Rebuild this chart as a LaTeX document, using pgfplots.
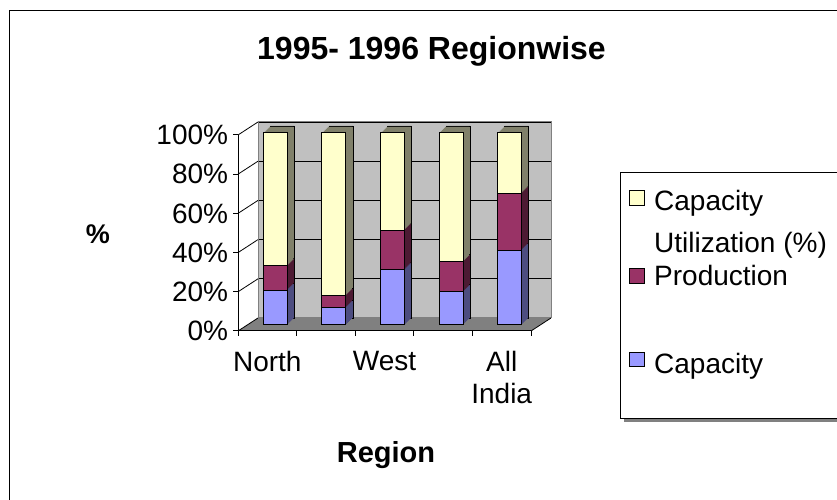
\documentclass[border=0pt]{standalone}
\usepackage{fontspec}
\setmainfont{Liberation Sans}
\usepackage{pgfplots}
\usepackage{pgfplotstable}
\pgfplotsset{compat=1.18}
\definecolor{capf}{HTML}{9999FF}
\definecolor{caps}{HTML}{4D4D80}
\definecolor{prodf}{HTML}{993366}
\definecolor{prods}{HTML}{4D1A33}
\definecolor{utilf}{HTML}{FFFFCC}
\definecolor{utils}{HTML}{80806A}
\definecolor{wallc}{HTML}{C0C0C0}
\definecolor{floorc}{HTML}{808080}

\pgfplotstableread{
cat cap prod util
0 18.2 12.6 69.2
1 9.0 6.3 84.7
2 28.8 20.6 50.6
3 17.3 15.6 67.1
4 39.0 29.5 31.5
}\datatable

\pgfplotsset{
 barax/.style={scale only axis, width=293pt, height=192pt, xmin=-0.5, xmax=4.5,
   ymin=0, ymax=100, axis lines=none, ticks=none, ybar stacked, bar width=24pt,
   clip=false, anchor=south west},
}
\newcommand{\fs}{\fontsize{28}{32}\selectfont}

\begin{document}
\begin{tikzpicture}[x=1pt,y=1pt]
\useasboundingbox (0,0) rectangle (837,500);
\clip (0,0) rectangle (837,500);
\fill[white] (0,0) rectangle (837,500);
\draw[line width=1pt] (9,-10) rectangle (860,489.3);

% back wall
\begin{axis}[scale only axis, width=293pt, height=196pt, at={(258pt,182pt)}, anchor=south west,
  xmin=-0.5, xmax=4.5, ymin=0, ymax=100, xtick=\empty, ytick={0,20,...,100},
  yticklabel style={text opacity=0, opacity=0},
  major tick length=0pt, ymajorgrids, grid style={black, line width=0.8pt},
  axis background/.style={fill=wallc}, axis line style={draw=gray, line width=1pt}]
\end{axis}

% floor and side wall
\fill[floorc] (238,169) -- (531,169) -- (551,182) -- (258,182) -- cycle;
\draw[line width=0.8pt] (531,169) -- (551,182);
\draw[line width=0.8pt] (238,169) -- (258,182);
\foreach \j in {1,...,5} \draw[line width=0.8pt] (238,169+39.2*\j) -- (258,182+39.2*\j);

% depth of the bars
\begin{axis}[barax, at={(253pt,182pt)}]
  \addplot[fill=caps, draw=black, line width=0.8pt] table[x=cat,y=cap]{\datatable};
  \addplot[fill=prods, draw=black, line width=0.8pt] table[x=cat,y=prod]{\datatable};
  \addplot[fill=utils, draw=black, line width=0.8pt] table[x=cat,y=util]{\datatable};
\end{axis}
\foreach \k in {6,5,...,1}{
  \pgfmathsetmacro\dx{246+\k}
  \pgfmathsetmacro\dy{175+\k}
  \begin{axis}[barax, at={(\dx pt,\dy pt)}]
    \addplot[fill=caps, draw=none] table[x=cat,y=cap]{\datatable};
    \addplot[fill=prods, draw=none] table[x=cat,y=prod]{\datatable};
    \addplot[fill=utils, draw=none] table[x=cat,y=util]{\datatable};
  \end{axis}
}

% front faces of the bars
\begin{axis}[barax, at={(246pt,175pt)}]
  \addplot[fill=capf, draw=black, line width=1pt] table[x=cat,y=cap]{\datatable};
  \addplot[fill=prodf, draw=black, line width=1pt] table[x=cat,y=prod]{\datatable};
  \addplot[fill=utilf, draw=black, line width=1pt] table[x=cat,y=util]{\datatable};
\end{axis}

% front axes, ticks and labels
\begin{axis}[scale only axis, width=293pt, height=196pt, at={(238pt,169pt)}, anchor=south west,
  xmin=-0.5, xmax=4.5, ymin=0, ymax=100,
  axis x line*=bottom, axis y line*=left, axis line style={line width=1pt, -},
  xtick={0,1,2,3,4}, xticklabels={North,,West,,{All\\India}},
  major x tick style={draw=none},
  minor xtick={-0.5,0.5,1.5,2.5,3.5,4.5},
  ytick={0,20,40,60,80,100}, yticklabels={0\%,20\%,40\%,60\%,80\%,100\%},
  tick align=outside, major tick length=5pt, minor tick length=5pt,
  tick style={black, line width=1pt},
  minor x tick style={black, line width=1pt},
  tick label style={font=\fs},
  xticklabel style={align=center, anchor=north, inner sep=0pt, yshift=-15pt},
  yticklabel style={anchor=east, inner sep=0pt, xshift=-4.7pt}]
\end{axis}

% titles
\node[anchor=base, inner sep=0pt, font=\fontsize{32}{38}\selectfont\bfseries] at (431.5,440) {1995- 1996 Regionwise};
\node[inner sep=0pt, font=\fontsize{27}{32}\selectfont\bfseries] at (98,266) {\%};
\node[anchor=base, inner sep=0pt, font=\fontsize{29}{34}\selectfont\bfseries] at (386,37) {Region};

% legend
\fill[gray] (623.7,78) rectangle (853,324);
\draw[line width=1pt, fill=white] (620.7,81) rectangle (850,327);
\draw[line width=0.8pt, fill=utilf] (629,295) rectangle (644,309.3);
\draw[line width=0.8pt, fill=prodf] (629,217) rectangle (644,232);
\draw[line width=0.8pt, fill=capf] (629,133.3) rectangle (644,147.3);
\node[anchor=base west, inner sep=0pt, font=\fs] at (654,289.3) {Capacity};
\node[anchor=base west, inner sep=0pt, font=\fs] at (654,247.3) {Utilization (\%)};
\node[anchor=base west, inner sep=0pt, font=\fs] at (654,214) {Production};
\node[anchor=base west, inner sep=0pt, font=\fs] at (654,126.7) {Capacity};
\end{tikzpicture}
\end{document}
